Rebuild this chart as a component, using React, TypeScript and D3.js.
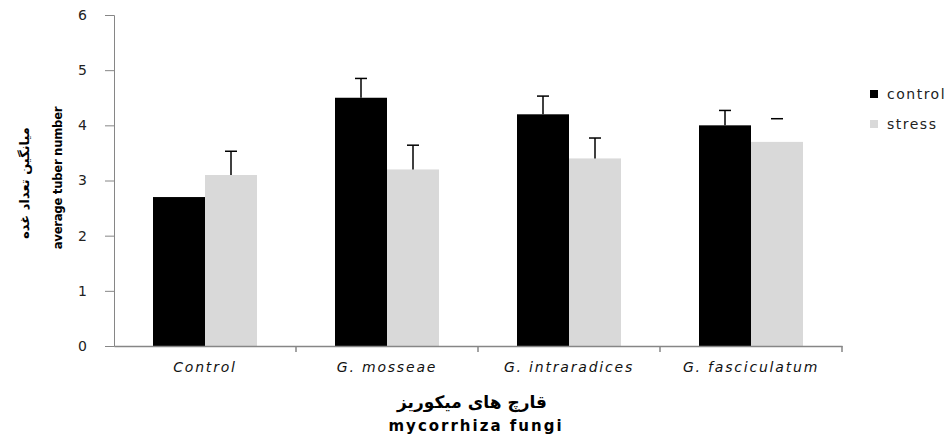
import React, { useEffect, useRef } from 'react'
import * as d3 from 'd3'

const categories = ['Control', 'G. mosseae', 'G. intraradices', 'G. fasciculatum']
const seriesNames = ['control', 'stress']
const controlValues = [2.7, 4.5, 4.2, 4.0]
const stressValues = [3.1, 3.2, 3.4, 3.7]
const controlErrors = [0, 0.35, 0.33, 0.27]
const stressErrors = [0.43, 0.44, 0.37, 0.42]
// the last stress error bar shows only its cap in the original
const stressStemShown = [true, true, true, false]
const yTicks = [0, 1, 2, 3, 4, 5, 6]

const colors = ['#000000', '#d9d9d9']
const font = "'DejaVu Sans', sans-serif"
const condensed = "'DejaVu Sans Condensed', 'DejaVu Sans', sans-serif"

function App() {
  const width = 950
  const height = 438
  const refSvg = useRef<SVGSVGElement>(null)

  const draw = () => {
    const svg = d3.select(refSvg.current)
    svg.selectAll('*').remove()

    const left = 114
    const right = 842
    const top = 15
    const bottom = 346

    const x = d3.scaleBand<string>().domain(categories).range([left, right])
    const inner = d3
      .scaleBand<string>()
      .domain(seriesNames)
      .range([0, x.bandwidth()])
      .paddingInner(0)
      .paddingOuter(0.75)
    const y = d3.scaleLinear().domain([0, 6]).range([bottom, top])

    const series = [
      { name: 'control', values: controlValues, errors: controlErrors, stems: [true, true, true, true] },
      { name: 'stress', values: stressValues, errors: stressErrors, stems: stressStemShown },
    ]

    // bars
    series.forEach((s, si) => {
      svg
        .append('g')
        .selectAll('rect')
        .data(categories)
        .join('rect')
        .attr('x', (c) => (x(c) as number) + (inner(s.name) as number))
        .attr('y', (c, i) => y(s.values[i]))
        .attr('width', inner.bandwidth())
        .attr('height', (c, i) => y(0) - y(s.values[i]))
        .attr('fill', colors[si])
    })

    // error bars
    series.forEach((s) => {
      categories.forEach((c, i) => {
        if (!s.errors[i]) return
        const cx = (x(c) as number) + (inner(s.name) as number) + inner.bandwidth() / 2
        const yTop = y(s.values[i] + s.errors[i])
        const g = svg.append('g').attr('stroke', '#000').attr('stroke-width', 1.5)
        if (s.stems[i]) {
          g.append('line').attr('x1', cx).attr('x2', cx).attr('y1', y(s.values[i])).attr('y2', yTop)
        }
        g.append('line').attr('x1', cx - 6).attr('x2', cx + 6).attr('y1', yTop).attr('y2', yTop)
      })
    })

    // y axis
    const yAxis = svg
      .append('g')
      .attr('transform', `translate(${left},0)`)
      .call(d3.axisLeft(y).tickValues(yTicks).tickSize(9).tickPadding(18).tickFormat(d3.format('d')))
    yAxis.select('.domain').attr('stroke', '#868686')
    yAxis.selectAll('.tick line').attr('stroke', '#868686')
    yAxis.selectAll('text').attr('font-family', font).attr('font-size', 14).attr('fill', '#222')

    // x axis
    const xAxis = svg
      .append('g')
      .attr('transform', `translate(0,${bottom})`)
      .call(d3.axisBottom(x).tickSize(0).tickPadding(16))
    xAxis.select('.domain').attr('stroke', '#868686').attr('stroke-width', 1.5)
    xAxis
      .selectAll('text')
      .attr('font-family', font)
      .attr('font-size', 14)
      .attr('letter-spacing', 1.8)
      .attr('font-style', 'italic')
      .attr('fill', '#111')
    xAxis
      .append('g')
      .selectAll('line')
      .data(categories)
      .join('line')
      .attr('x1', (c) => (x(c) as number) + x.bandwidth())
      .attr('x2', (c) => (x(c) as number) + x.bandwidth())
      .attr('y1', 0)
      .attr('y2', 6)
      .attr('stroke', '#868686')
      .attr('stroke-width', 1.5)

    // axis titles
    svg
      .append('text')
      .attr('x', 472)
      .attr('y', 408)
      .attr('text-anchor', 'middle')
      .attr('font-family', font)
      .attr('font-weight', 'bold')
      .attr('font-size', 17)
      .attr('direction', 'rtl')
      .text('قارچ های میکوریز')
    svg
      .append('text')
      .attr('x', 476)
      .attr('y', 431)
      .attr('text-anchor', 'middle')
      .attr('font-family', font)
      .attr('font-weight', 'bold')
      .attr('font-size', 15)
      .attr('letter-spacing', 2)
      .text('mycorrhiza fungi')

    svg
      .append('text')
      .attr('transform', 'translate(29,183) rotate(-90)')
      .attr('text-anchor', 'middle')
      .attr('font-family', font)
      .attr('font-weight', 'bold')
      .attr('font-size', 13)
      .attr('direction', 'rtl')
      .text('میانگین تعداد غده')
    svg
      .append('text')
      .attr('transform', 'translate(62,178) rotate(-90)')
      .attr('text-anchor', 'middle')
      .attr('font-family', condensed)
      .attr('font-weight', 'bold')
      .attr('font-size', 13)
      .attr('letter-spacing', -0.3)
      .text('average tuber number')

    // legend
    const legend = svg.append('g').attr('transform', 'translate(870,94)')
    seriesNames.forEach((name, i) => {
      const row = legend.append('g').attr('transform', `translate(0,${i * 30})`)
      row.append('rect').attr('x', 0).attr('y', -4).attr('width', 8).attr('height', 8).attr('fill', colors[i])
      row
        .append('text')
        .attr('x', 17)
        .attr('y', 5)
        .attr('font-family', font)
        .attr('font-size', 14)
        .attr('letter-spacing', 1.5)
        .attr('fill', '#222')
        .text(name)
    })
  }

  useEffect(() => {
    if (refSvg.current) {
      draw()
    }
  })

  return (
    <svg
      ref={refSvg}
      width={width}
      height={height}
      style={{ position: 'absolute', left: 0, top: 0, background: '#fff' }}
    />
  )
}

export default App
